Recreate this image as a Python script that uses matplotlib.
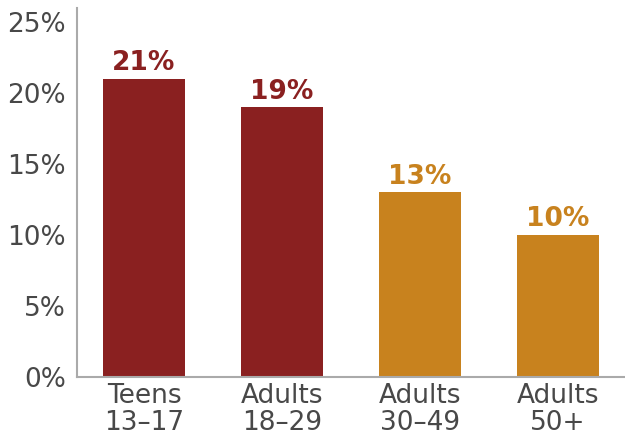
import matplotlib
matplotlib.use("Agg")
import matplotlib.pyplot as plt
from matplotlib.ticker import FuncFormatter

groups = ["Teens\n13\u201317", "Adults\n18\u201329", "Adults\n30\u201349", "Adults\n50+"]
values = [21, 19, 13, 10]
colors = ["#8a2020", "#8a2020", "#c8821e", "#c8821e"]

fig = plt.figure(figsize=(6.25, 4.36), dpi=100)
ax = fig.add_axes([0.1232, 0.1353, 0.8768, 0.8464])

x = range(len(values))
bars = ax.bar(x, values, width=0.59, color=colors)
for b, v, c in zip(bars, values, colors):
    ax.annotate("%d%%" % v, (b.get_x() + b.get_width() / 2, v),
                xytext=(0, 2), textcoords="offset points",
                ha="center", va="bottom", fontsize=19, fontweight="bold", color=c)

ax.set_xlim(-0.486, 3.486)
ax.set_ylim(0, 26)
ax.set_yticks([0, 5, 10, 15, 20, 25])
ax.yaxis.set_major_formatter(FuncFormatter(lambda v, p: "%d%%" % v))
ax.set_xticks(list(x))
ax.set_xticklabels(groups, linespacing=1.05)
ax.tick_params(length=0, labelsize=19, labelcolor="#484848")
ax.tick_params(axis="y", pad=8)
ax.tick_params(axis="x", pad=4)

for s in ["top", "right"]:
    ax.spines[s].set_visible(False)
for s in ["left", "bottom"]:
    ax.spines[s].set_color("#aaaaaa")
    ax.spines[s].set_linewidth(1.5)

fig.savefig("out.png", dpi=100)
